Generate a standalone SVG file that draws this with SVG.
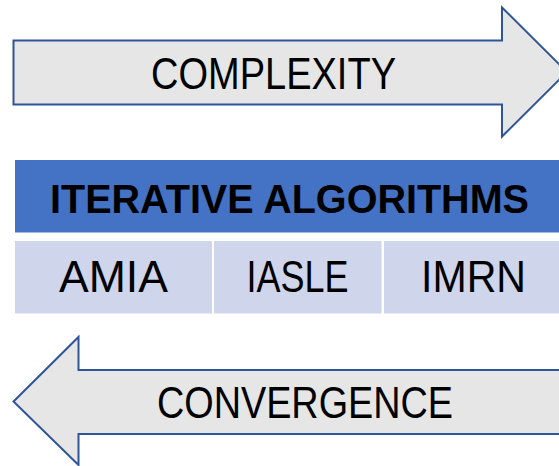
<svg xmlns="http://www.w3.org/2000/svg" width="559" height="466" viewBox="0 0 559 466">
  <style>
    .arrow { fill: #E7E6E6; stroke: #2F5597; stroke-width: 2; stroke-linejoin: miter; }
    .lbl { font-family: "Liberation Sans", Arial, sans-serif; font-size: 45px; fill: #000000; }
    .hdr { font-family: "Liberation Sans", Arial, sans-serif; font-size: 41px; font-weight: bold; fill: #000000; }
    .cell { fill: #CFD5EA; }
  </style>
  <rect width="559" height="466" fill="#FFFFFF"/>
  <g id="complexity">
    <path class="arrow" d="M13.5,40.5 L502,40.5 L502,7.5 L567,72 L502,136.5 L502,104.5 L13.5,104.5 Z"/>
    <text class="lbl" x="151" y="89" textLength="245" lengthAdjust="spacingAndGlyphs">COMPLEXITY</text>
  </g>
  <g id="header">
    <rect x="15" y="160" width="550" height="72.5" fill="#4472C4"/>
    <text class="hdr" x="50" y="213" textLength="479" lengthAdjust="spacingAndGlyphs">ITERATIVE ALGORITHMS</text>
  </g>
  <g id="amia">
    <rect class="cell" x="15" y="241" width="197" height="72.5"/>
    <text class="lbl" x="59" y="292" textLength="109" lengthAdjust="spacingAndGlyphs">AMIA</text>
  </g>
  <g id="iasle">
    <rect class="cell" x="214" y="241" width="167.5" height="72.5"/>
    <text class="lbl" x="246.5" y="292" textLength="102" lengthAdjust="spacingAndGlyphs">IASLE</text>
  </g>
  <g id="imrn">
    <rect class="cell" x="384" y="241" width="180" height="72.5"/>
    <text class="lbl" x="421" y="292" textLength="105" lengthAdjust="spacingAndGlyphs">IMRN</text>
  </g>
  <g id="convergence">
    <path class="arrow" d="M13.5,401.5 L78.5,337 L78.5,370 L570,370 L570,434 L78.5,434 L78.5,465 Z"/>
    <text class="lbl" x="157" y="418" textLength="296" lengthAdjust="spacingAndGlyphs">CONVERGENCE</text>
  </g>
  <g id="connectors"></g>
</svg>
